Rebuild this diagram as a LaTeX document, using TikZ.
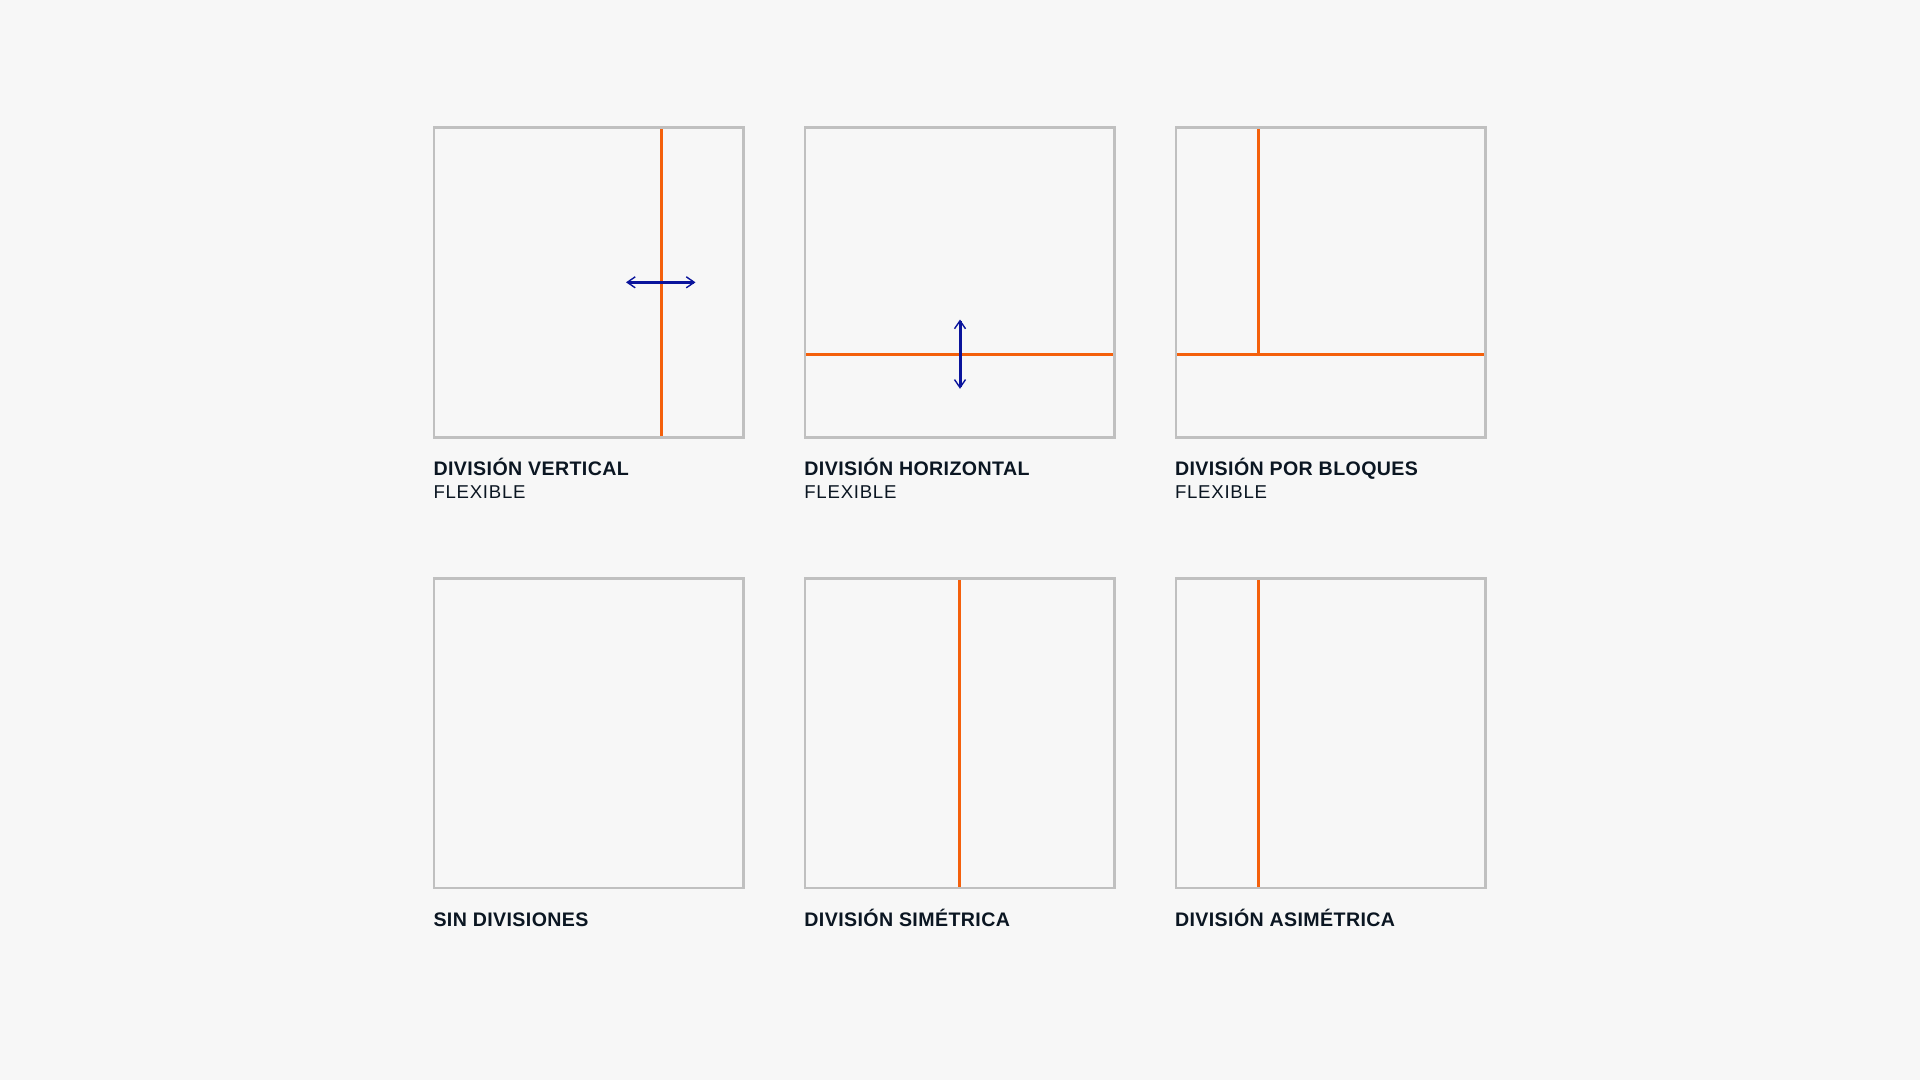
\documentclass[tikz,border=0pt]{standalone}
\usepackage{fontspec}
\setmainfont{Liberation Sans}
\usetikzlibrary{arrows.meta}
\definecolor{bg}{HTML}{F7F7F7}
\definecolor{framegray}{HTML}{C0C0C0}
\definecolor{accent}{HTML}{F4600C}
\definecolor{navy}{HTML}{0A149C}
\definecolor{ink}{HTML}{0B1622}
\begin{document}
\begin{tikzpicture}[x=1pt,y=-1pt,
  panel/.style={draw=framegray,line width=2.8pt,minimum width=309.5pt,minimum height=309.5pt,inner sep=0pt,outer sep=0pt},
  divider/.style={draw=accent,line width=2.7pt},
  mover/.style={draw=navy,line width=3pt,{Straight Barb[length=8pt,width=11pt,line width=1.4pt]}-{Straight Barb[length=8pt,width=11pt,line width=1.4pt]}},
  title/.style={anchor=base west,inner sep=0pt,text=ink,font=\bfseries\fontsize{19.6}{23}\selectfont\addfontfeatures{LetterSpace=2}},
  sub/.style={anchor=base west,inner sep=0pt,text=ink,font=\fontsize{18.6}{23}\selectfont\addfontfeatures{LetterSpace=4}}]
\fill[bg] (0,0) rectangle (1920,1080);
\useasboundingbox (0,0) rectangle (1920,1080);

% panel centres
\coordinate (c1) at (588.75,282.4);
\coordinate (c2) at (959.75,282.4);
\coordinate (c3) at (1330.75,282.4);
\coordinate (c4) at (588.75,733.3);
\coordinate (c5) at (959.75,733.3);
\coordinate (c6) at (1330.75,733.3);

% dividers (drawn first, frames on top)
\coordinate (v1t) at (661.3,127.6);
\coordinate (v1b) at (661.3,437.2);
\draw[divider] (v1t) -- (v1b);

\coordinate (h2l) at (805,354.3);
\coordinate (h2r) at (1114.5,354.3);
\draw[divider] (h2l) -- (h2r);

\coordinate (v3t) at (1258.3,127.6);
\coordinate (v3b) at (1258.3,354.3);
\coordinate (h3l) at (1176,354.3);
\coordinate (h3r) at (1485.5,354.3);
\draw[divider] (v3t) -- (v3b);
\draw[divider] (h3l) -- (h3r);

\coordinate (v5t) at (959.75,578.5);
\coordinate (v5b) at (959.75,888);
\draw[divider] (v5t) -- (v5b);

\coordinate (v6t) at (1258.3,578.5);
\coordinate (v6b) at (1258.3,888);
\draw[divider] (v6t) -- (v6b);

% frames
\node[panel] (p1) at (c1) {};
\node[panel] (p2) at (c2) {};
\node[panel] (p3) at (c3) {};
\node[panel] (p4) at (c4) {};
\node[panel] (p5) at (c5) {};
\node[panel] (p6) at (c6) {};

% movement arrows
\coordinate (a1l) at (626,282.3);
\coordinate (a1r) at (695.5,282.3);
\draw[mover] (a1l) -- (a1r);
\coordinate (a2t) at (960,319.5);
\coordinate (a2b) at (960,388.8);
\draw[mover] (a2t) -- (a2b);

% labels
\node[title] (t1) at (433.3,475) {DIVISIÓN VERTICAL};
\node[sub] (s1) at (433.3,498.3) {FLEXIBLE};
\node[title] (t2) at (804.2,475) {DIVISIÓN HORIZONTAL};
\node[sub] (s2) at (804.2,498.3) {FLEXIBLE};
\node[title] (t3) at (1174.8,475) {DIVISIÓN POR BLOQUES};
\node[sub] (s3) at (1174.8,498.3) {FLEXIBLE};
\node[title] (t4) at (433.3,926.5) {SIN DIVISIONES};
\node[title] (t5) at (804.2,926.5) {DIVISIÓN SIMÉTRICA};
\node[title] (t6) at (1174.8,926.5) {DIVISIÓN ASIMÉTRICA};
\end{tikzpicture}
\end{document}
